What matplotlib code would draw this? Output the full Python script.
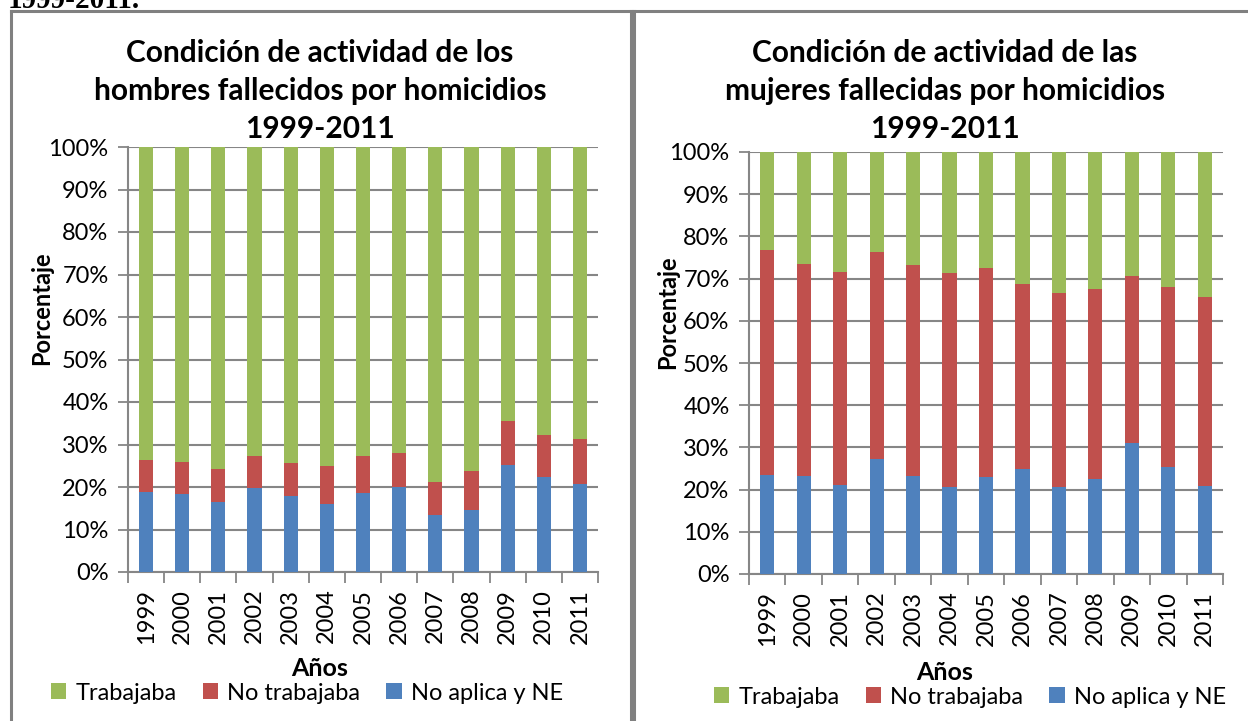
import numpy as np
import matplotlib.pyplot as plt
from matplotlib.lines import Line2D
from matplotlib.ticker import FixedLocator

plt.rcParams['font.family'] = ['Lato', 'DejaVu Sans']

anios = ['1999', '2000', '2001', '2002', '2003', '2004', '2005',
         '2006', '2007', '2008', '2009', '2010', '2011']
series = ['Trabajaba', 'No trabajaba', 'No aplica y NE']
colores = ['#9BBB59', '#C0504D', '#4F81BD']

# hombres: porcentajes (%)
h_no_aplica = [18.8, 18.4, 16.4, 19.8, 18.0, 16.0, 18.6, 20.0, 13.4, 14.7, 25.1, 22.4, 20.7]
h_no_trabajaba = [7.5, 7.5, 7.9, 7.6, 7.7, 8.9, 8.6, 8.0, 7.8, 9.0, 10.4, 9.9, 10.7]
h_trabajaba = [73.7, 74.1, 75.7, 72.6, 74.3, 75.1, 72.8, 72.0, 78.8, 76.3, 64.5, 67.7, 68.6]

# mujeres
m_no_aplica = [23.5, 23.3, 21.2, 27.2, 23.2, 20.7, 22.9, 25.0, 20.5, 22.5, 31.0, 25.4, 20.8]
m_no_trabajaba = [53.3, 50.2, 50.4, 49.2, 50.1, 50.7, 49.7, 43.7, 46.0, 45.0, 39.7, 42.5, 44.9]
m_trabajaba = [23.2, 26.5, 28.4, 23.6, 26.7, 28.6, 27.4, 31.3, 33.5, 32.5, 29.3, 32.1, 34.3]

yticks = list(range(0, 101, 10))

W, H = 1248, 721
fig = plt.figure(figsize=(W / 100, H / 100), dpi=100)
gris = '#868686'


def fx(px):
    return px / W


def fy(py):
    return 1 - py / H


# marcos de las celdas de la tabla
for xs, ys in [([11, 11], [11, 730]), ([11, 631], [11, 11]), ([631, 631], [11, 730]),
               ([634, 634], [11, 730]), ([634, 1260], [11, 11])]:
    fig.add_artist(Line2D([fx(x) for x in xs], [fy(y) for y in ys], color='#808080', lw=2.2))

# texto cortado de arriba
fig.text(fx(8), fy(8), '1999-2011.', family='Liberation Serif', fontweight='bold',
         fontsize=21, ha='left', va='baseline')


def grafico(rect, datos, titulo, cx, ylab_x, ley_x, ley_y, xlab_y):
    ax = fig.add_axes(rect)
    x = np.arange(len(anios))
    abajo = np.zeros(len(anios))
    barras = {}
    for nombre, col, vals in zip(series[::-1], colores[::-1], datos[::-1]):
        b = ax.bar(x, vals, 0.39, bottom=abajo, color=col, edgecolor='none', zorder=3)
        barras[nombre] = b
        abajo += np.array(vals)
    ax.set_xlim(-0.5, len(anios) - 0.5)
    ax.set_ylim(0, 100)
    ax.set_yticks(yticks)
    ax.set_yticklabels([f'{v}%' for v in yticks])
    ax.set_xticks(x)
    ax.set_xticklabels(anios, rotation=90)
    ax.xaxis.set_minor_locator(FixedLocator(np.arange(-0.5, len(anios), 1)))
    ax.tick_params(axis='x', which='major', length=0, pad=12, labelsize=17)
    ax.tick_params(axis='x', which='minor', length=8, color=gris, width=1.3)
    ax.tick_params(axis='y', length=7, color=gris, width=1.3, labelsize=17, pad=7)
    ax.grid(axis='y', color=gris, lw=1.5, zorder=0)
    for s in ['top', 'right']:
        ax.spines[s].set_visible(False)
    for s in ['left', 'bottom']:
        ax.spines[s].set_color(gris)
        ax.spines[s].set_linewidth(1.5)
    fig.text(fx(cx), fy(91), titulo, ha='center', va='center', fontsize=21.5,
             fontweight='bold', linespacing=1.42)
    fig.text(fx(ylab_x), rect[1] + rect[3] * 0.62, 'Porcentaje', rotation=90,
             ha='center', va='center', fontsize=17, fontweight='bold')
    fig.text(fx(cx), fy(xlab_y), 'Años', ha='center', va='center', fontsize=18,
             fontweight='bold')
    fig.legend([barras[s] for s in series], series, loc='center',
               bbox_to_anchor=(fx(ley_x), fy(ley_y)), ncol=3, frameon=False, fontsize=17,
               handlelength=0.65, handleheight=0.65, handletextpad=0.4, columnspacing=1.1)
    return ax


grafico([fx(128), fy(572), fx(598 - 128), (572 - 147) / H],
        [h_trabajaba, h_no_trabajaba, h_no_aplica],
        'Condición de actividad de los\nhombres fallecidos por homicidios\n1999-2011',
        320, 42, 307, 693, 668)
grafico([fx(749), fy(574), fx(1223 - 749), (574 - 152) / H],
        [m_trabajaba, m_no_trabajaba, m_no_aplica],
        'Condición de actividad de las\nmujeres fallecidas por homicidios\n1999-2011',
        945, 668, 970, 697, 672)

fig.savefig('out.png', dpi=100)
